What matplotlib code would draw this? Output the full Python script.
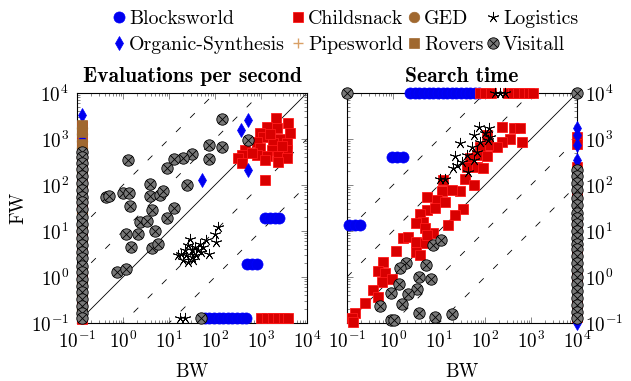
import numpy as np
import matplotlib
matplotlib.use('Agg')
import matplotlib.pyplot as plt
from matplotlib.path import Path
from matplotlib.lines import Line2D

plt.rcParams['font.family'] = 'cmr10'
plt.rcParams['mathtext.fontset'] = 'cm'
plt.rcParams['axes.unicode_minus'] = False

# ---------------- data (log10 of the values) ----------------
# failed runs are drawn just inside the lower limit in the left panel
# ----- Left panel: evaluations per second -----
eps_blocks_bw = [3.09, 3.20, 3.30, 3.40, 2.69, 2.80, 2.91,
                 1.78, 1.88, 1.98, 2.08, 2.18, 2.28, 2.38, 2.48, 2.58, 2.68]
eps_blocks_fw = [1.29, 1.29, 1.29, 1.29, 0.28, 0.28, 0.28,
                 -0.9, -0.9, -0.9, -0.9, -0.9, -0.9, -0.9, -0.9, -0.9, -0.9]

eps_child_bw = [3.33, 3.59, 3.12, 3.34, 2.98, 3.63, 3.05, 3.41, 2.91, 3.27, 3.56,
                2.65, 2.98, 3.23, 3.56, 2.58, 2.91, 3.12, 3.38, 3.56, 2.51, 2.58,
                3.09, 3.38, 3.09, 2.80, 3.45, 3.20,
                3.00, 3.12, 3.25, 3.38, 3.50, 3.58,
                -0.9, -0.9, -0.9, -0.9, -0.9, -0.9, -0.9, -0.9, -0.9, -0.9, -0.9]
eps_child_fw = [3.45, 3.34, 3.27, 3.23, 3.12, 3.12, 3.05, 3.01, 2.94, 2.91, 2.91,
                2.76, 2.80, 2.76, 2.76, 2.65, 2.65, 2.62, 2.62, 2.58, 2.58, 2.47,
                2.54, 2.51, 2.11, 2.70, 2.85, 3.10,
                -0.9, -0.9, -0.9, -0.9, -0.9, -0.9,
                3.28, 3.05, 2.80, 2.50, 2.00, 1.50, 1.00, 0.50, 0.00, -0.50, -0.92]

eps_ged_bw = [-0.9, -0.9, -0.9, -0.9, -0.9, -0.9, -0.9, -0.9, -0.9, -0.9,
              -0.9, -0.9, -0.9, -0.9, -0.9, -0.9]
eps_ged_fw = [3.25, 3.10, 2.95, 2.80, 2.60, 2.30, 2.00, 1.70, 1.40, 1.10,
              0.80, 0.50, 0.20, -0.10, -0.40, -0.70]

eps_logi_bw = [2.07, 2.00, 2.03, 1.87, 1.74, 1.67, 1.56, 1.49, 1.41, 1.34, 1.27,
               1.38, 1.49, 1.59, 1.52, 1.41, 1.30, 1.20, 1.63, 1.81, 1.70, 1.45,
               1.23, 1.34]
eps_logi_fw = [1.09, 0.94, 0.76, 0.51, 0.65, 0.72, 0.65, 0.58, 0.69, 0.58, 0.51,
               0.47, 0.43, 0.47, 0.36, 0.33, 0.36, 0.47, 0.58, 0.80, 0.54, 0.83,
               -0.9, -0.9]

eps_orga_bw = [2.72, 2.56, 2.72, 1.72, -0.9, -0.9, -0.9, -0.9]
eps_orga_fw = [3.42, 3.20, 2.32, 2.10, 3.52, 3.20, 2.98, 2.90]

eps_rove_bw = [-0.9, -0.9, -0.9]
eps_rove_fw = [3.30, 3.15, 2.90]

eps_visi_bw = [2.15, 2.72, 1.86, 2.15, 0.11, 1.87, 1.49, 1.30, 1.11, 0.96, 1.40,
               0.58, -0.36, -0.30, 0.00, 0.13, 0.59, 0.80, 0.88, 0.16, 0.64, 1.10,
               0.96, 0.36, 0.52, 0.69, 0.07, 0.33, 0.18, 0.62, 0.76, -0.13, 0.06,
               1.70,
               -0.9, -0.9, -0.9, -0.9, -0.9, -0.9, -0.9, -0.9, -0.9, -0.9, -0.9,
               -0.9, -0.9, -0.9, -0.9, -0.9, -0.9, -0.9, -0.9, -0.9, -0.9, -0.9,
               -0.9, -0.9, -0.9, -0.9]
eps_visi_fw = [3.44, 2.97, 2.88, 2.83, 2.54, 2.56, 2.67, 2.58, 2.56, 2.36, 1.99,
               2.03, 1.74, 1.77, 1.83, 1.83, 1.76, 1.78, 1.86, 1.54, 1.45, 1.49,
               1.29, 1.20, 1.21, 1.00, 0.94, 0.93, 0.65, 0.62, 0.72, 0.11, 0.18,
               -0.9,
               2.72, 2.60, 2.48, 2.35, 2.20, 2.05, 1.90, 1.75, 1.62, 1.48, 1.30,
               1.15, 1.00, 0.85, 0.70, 0.55, 0.42, 0.25, 0.10, -0.05, -0.20,
               -0.33, -0.48, -0.62, -0.78, -0.90]

# ----- Right panel: search time -----
st_blocks_bw = [-0.03, 0.09, 0.21, -0.95, -0.83, -0.72,
                0.37, 0.47, 0.57, 0.67, 0.78, 0.88, 0.98, 1.08, 1.18, 1.28,
                1.38, 1.48, 1.58, 1.68, 1.78, 1.86]
st_blocks_fw = [2.60, 2.60, 2.60, 1.13, 1.13, 1.13,
                4, 4, 4, 4, 4, 4, 4, 4, 4, 4, 4, 4, 4, 4, 4, 4]

st_child_bw = [2.36, 2.62, 2.76, 2.80, 2.54, 2.36, 2.25, 2.04, 2.07, 1.89, 1.82,
               2.04, 1.67, 1.60, 1.82, 1.96, 1.57, 1.76, 1.09, 1.46, 1.28, 1.06,
               0.73, 0.95, 1.13, 0.73, 0.91, 1.53, 1.35, 0.59, 0.66, 0.51, 1.20,
               0.88, 0.70, 0.22, 0.33, 0.51, 0.70, 0.73, 0.51, 0.59, 0.07, -0.21,
               -0.32, -0.17, -0.03, -0.25, -0.44, -0.32, -0.61, -0.83, -0.90, -0.86,
               1.90, 2.00, 2.12, 2.50, 2.60, 2.72, 2.85, 2.95, 3.05,
               4, 4, 4, 4, 4, 4, 4, 4, 4]
st_child_fw = [3.27, 3.23, 3.25, 2.94, 3.01, 2.94, 2.83, 3.09, 2.87, 2.83, 2.65,
               2.62, 2.58, 2.40, 2.40, 2.38, 2.14, 2.00, 2.11, 1.86, 1.89, 1.86,
               1.73, 1.67, 1.62, 1.46, 1.49, 1.47, 1.35, 1.38, 1.20, 1.17, 1.13,
               0.95, 1.06, 0.84, 0.88, 0.77, 0.73, 0.91, 0.55, 0.48, 0.57, 0.33,
               0.14, 0.08, -0.05, -0.10, -0.28, -0.43, -0.56, -0.78, -0.90, -0.97,
               4, 4, 4, 4, 4, 4, 4, 4, 4,
               3.05, 2.90, 2.40, 1.80, 1.20, 0.60, 0.00, -0.57, -0.88]

st_logi_bw = [1.86, 2.09, 2.00, 1.75, 2.11, 2.07, 1.89, 1.46, 1.71, 1.82, 1.35,
              1.60, 1.49, 1.40, 1.30, 1.64, 1.02, 1.13, 1.75,
              2.22, 2.33, 2.43]
st_logi_fw = [3.27, 3.23, 3.12, 3.09, 3.05, 2.98, 2.94, 2.91, 2.83, 2.72, 2.63,
              2.65, 2.51, 2.43, 2.36, 2.29, 2.12, 2.12, 2.54,
              4, 4, 4]

st_orga_bw = [4, 4, 4, 4, 4]
st_orga_fw = [3.23, 3.09, 2.87, 2.54, -1.0]

st_visi_bw = [0.88, 1.04, 0.28, 0.15, 0.72, 0.57, 0.82, 0.14, 0.53, 0.33, -0.05,
              0.19, -0.28, 0.57, 0.91, 1.28, -0.05, 0.02, -1.0, 4,
              4, 4, 4, 4, 4, 4, 4, 4, 4, 4, 4, 4, 4, 4, 4, 4, 4, 4, 4, 4, 4, 4, 4]
st_visi_fw = [0.70, 0.80, 0.31, 0.19, 0.27, -0.01, -0.04, -0.16, -0.27, -0.37, -0.34,
              -0.59, -0.63, -0.78, -0.88, -0.81, -0.93, -0.93, 4, 4,
              2.33, 2.20, 2.05, 1.90, 1.72, 1.56, 1.40, 1.28, 1.15, 1.00, 0.85,
              0.72, 0.60, 0.45, 0.30, 0.15, 0.00, -0.15, -0.30, -0.45, -0.60,
              -0.75, -0.90]

domains = ['Blocksworld', 'Childsnack', 'GED', 'Logistics',
           'Organic-Synthesis', 'Pipesworld', 'Rovers', 'Visitall']
tick_exps = [-1, 0, 1, 2, 3, 4]
diag_offsets = [-2, -1, 1, 2]

# ---------------- styles ----------------
circ = Path.unit_circle()
c = 0.7071
cross = Path([(-c, -c), (c, c), (-c, c), (c, -c)],
             [Path.MOVETO, Path.LINETO, Path.MOVETO, Path.LINETO])
otimes = Path.make_compound_path(circ, cross)

brown = '#a0682f'
styles = {
    'Blocksworld': dict(marker='o', ms=8, mfc='#0000ee', mec='#0000ff', mew=0.5),
    'Childsnack': dict(marker='s', ms=7.6, mfc='#d80000', mec='#ff1a1a', mew=0.6),
    'GED': dict(marker='o', ms=7.6, mfc=brown, mec=brown, mew=0.5),
    'Logistics': dict(marker=(5, 2), ms=8, mfc='black', mec='black', mew=0.6),
    'Organic-Synthesis': dict(marker='d', ms=7.5, mfc='#0000ee', mec='#0000ff', mew=0.5),
    'Pipesworld': dict(marker='+', ms=7, mfc='#d9a066', mec='#d9a066', mew=1.0),
    'Rovers': dict(marker='s', ms=7.6, mfc=brown, mec=brown, mew=0.5),
    'Visitall': dict(marker=otimes, ms=8.2, mfc='#787878', mec='black', mew=0.6),
}

left_data = {
    'Blocksworld': (eps_blocks_bw, eps_blocks_fw),
    'Childsnack': (eps_child_bw, eps_child_fw),
    'GED': (eps_ged_bw, eps_ged_fw),
    'Logistics': (eps_logi_bw, eps_logi_fw),
    'Organic-Synthesis': (eps_orga_bw, eps_orga_fw),
    'Rovers': (eps_rove_bw, eps_rove_fw),
    'Visitall': (eps_visi_bw, eps_visi_fw),
}
right_data = {
    'Blocksworld': (st_blocks_bw, st_blocks_fw),
    'Childsnack': (st_child_bw, st_child_fw),
    'Logistics': (st_logi_bw, st_logi_fw),
    'Organic-Synthesis': (st_orga_bw, st_orga_fw),
    'Visitall': (st_visi_bw, st_visi_fw),
}

W, H = 631, 381
fig = plt.figure(figsize=(W / 100, H / 100), dpi=100)
axL = fig.add_axes([77 / W, 1 - 323 / H, 230 / W, 230 / H])
axR = fig.add_axes([347 / W, 1 - 323 / H, 230 / W, 230 / H])

FS = 13.8
LFS = 14.3
tick_labels = [r'$10^{%d}$' % e for e in tick_exps]
ticks = [10.0 ** e for e in tick_exps]

for ax, data, title in [(axL, left_data, 'Evaluations per second'),
                        (axR, right_data, 'Search time')]:
    ax.set_xscale('log')
    ax.set_yscale('log')
    lo, hi = ticks[0], ticks[-1]
    xs = np.array([lo, hi])
    ax.plot(xs, xs, color='black', lw=0.6, zorder=1)
    for k in diag_offsets:
        ax.plot(xs, xs * 10.0 ** k, color='black', lw=0.6,
                ls=(0, (8, 16)), zorder=1)
    for name in domains:
        if name in data:
            bx, fy = data[name]
            ax.plot(10.0 ** np.array(bx), 10.0 ** np.array(fy), ls='none',
                    clip_on=False, zorder=3, **styles[name])
    ax.set_xlim(lo, hi)
    ax.set_ylim(lo, hi)
    ax.set_xticks(ticks)
    ax.set_xticklabels(tick_labels, fontsize=FS)
    ax.set_yticks(ticks)
    ax.set_yticklabels(tick_labels, fontsize=FS)
    ax.tick_params(which='both', direction='in', top=True, right=True,
                   color='#555555', width=0.5)
    ax.tick_params(which='major', length=4, pad=6)
    ax.tick_params(which='minor', length=2.2)
    for s in ax.spines.values():
        s.set_linewidth(0.8)
    ax.set_xlabel('BW', fontsize=FS, labelpad=7.5)
    ax.set_title(title, fontfamily='cmb10', fontsize=15.5, pad=8)

axR.tick_params(axis='y', labelleft=False, labelright=True)
fig.text(18 / W, 1 - 208 / H, 'FW', rotation=90, fontsize=FS,
         ha='center', va='center')

# ---------------- legend (two rows of four entries) ----------------
leg_rows = [['Blocksworld', 'Childsnack', 'GED', 'Logistics'],
            ['Organic-Synthesis', 'Pipesworld', 'Rovers', 'Visitall']]
col_marker_px = [119, 298, 414, 493]
row_px = [17, 43]
for r, row in enumerate(leg_rows):
    yf = 1 - row_px[r] / H
    for ci, name in enumerate(row):
        xm = col_marker_px[ci] / W
        fig.add_artist(Line2D([xm], [yf], transform=fig.transFigure,
                              ls='none', **styles[name]))
        fig.text(xm + 10 / W, yf, name, fontsize=LFS, ha='left',
                 va='center_baseline')

fig.savefig('out.png', dpi=100)
